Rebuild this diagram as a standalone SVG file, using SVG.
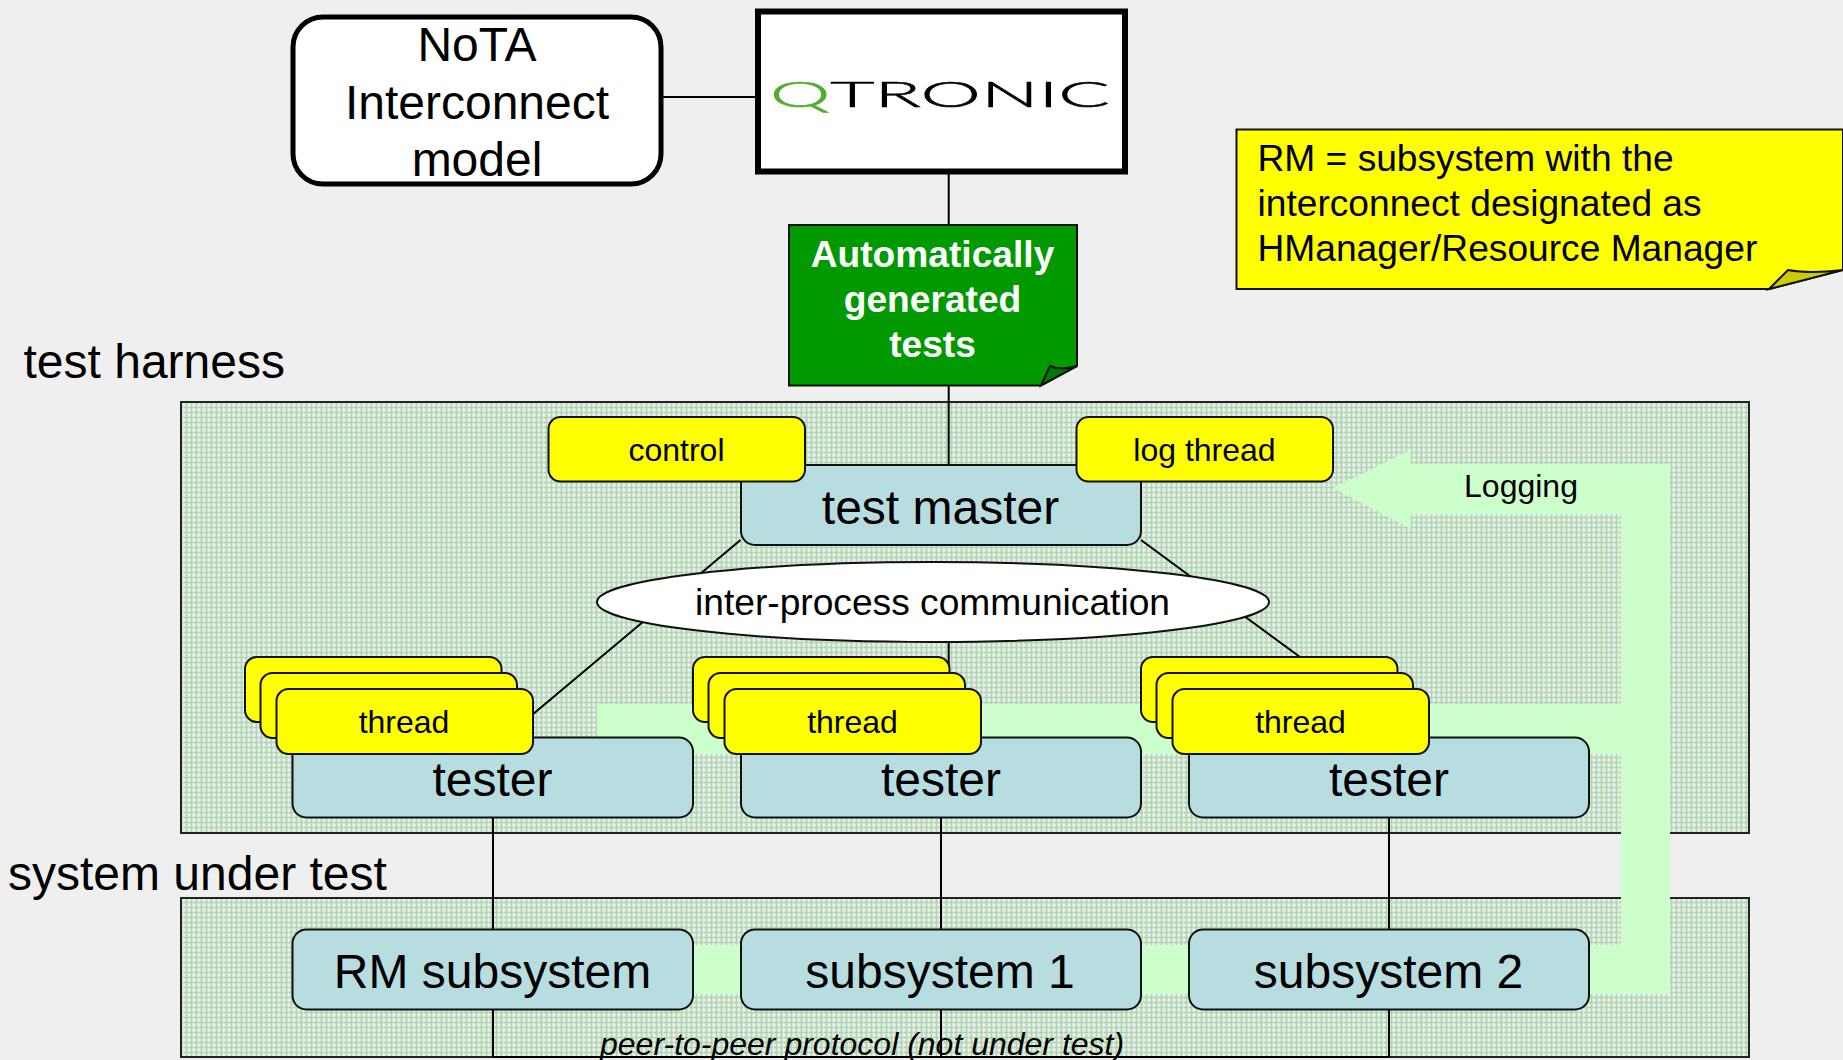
<svg xmlns="http://www.w3.org/2000/svg" width="1843" height="1060" viewBox="0 0 1843 1060">
<defs>
<pattern id="dots" width="5" height="5" patternUnits="userSpaceOnUse" x="181" y="402">
<rect width="5" height="5" fill="#d8e2d8"/>
<rect width="5" height="1" fill="#9ad69f"/>
<rect width="1" height="5" fill="#a6dbab"/>
<rect x="2" y="2" width="2" height="2" fill="#f0f0f0"/>
<rect x="2" y="0" width="1" height="1" fill="#e4e4e4"/>
</pattern>
</defs>
<style>
text{font-family:"Liberation Sans",Arial,sans-serif;fill:#000}
.c{text-anchor:middle}
.s48{font-size:48px}
.s37{font-size:37.17px}
.s32{font-size:32px}
.blue{fill:#b8dde1;stroke:#111;stroke-width:2}
.yel{fill:#ffff00;stroke:#111;stroke-width:2}
.panel{fill:url(#dots);stroke:#222;stroke-width:2}
.line{fill:none;stroke:#000;stroke-width:2}
</style>
<rect width="1843" height="1060" fill="#efefef"/>
<g id="panel-harness"><rect class="panel" x="181" y="402" width="1568" height="431"/></g>
<g id="panel-sut"><rect class="panel" x="181" y="898" width="1568" height="159"/></g>
<g id="logging-arrow">
<polygon fill="#ccffcc" points="1333,488 1410.7,450 1410.7,464.3 1670,464.3 1670,994 693,994 693,945 1621,945 1621,754 597,754 597,704.3 1621,704.3 1621,514.3 1410.7,514.3 1410.7,529"/>
<text class="s32 c" x="1521" y="497">Logging</text>
</g>
<g id="connectors">
<path class="line" d="M662 97H755M948.700 174V470M948.700 640V700M740.500 540L532 715M1141 540L1300 657M493 818V1057M941 818V1057M1389 818V1057M493 1057H1389"/>
</g>
<g id="nota"><rect x="293" y="17" width="368" height="167" rx="30" fill="#fff" stroke="#000" stroke-width="5"/>
<text class="s48 c" x="477" y="61">NoTA</text><text class="s48 c" x="477" y="119">Interconnect</text><text class="s48 c" x="477" y="176">model</text></g>
<g id="qtronic"><rect x="758" y="11.500" width="367" height="160" fill="#fff" stroke="#000" stroke-width="6"/>
<text font-size="36" transform="translate(770 107) scale(2.2 1)" textLength="154.500" lengthAdjust="spacingAndGlyphs" style="font-family:Lato,sans-serif;font-weight:300" stroke="#000" stroke-width="0.6"><tspan fill="#4fae2a" stroke="#4fae2a">Q</tspan>TRONIC</text></g>
<g id="generated-tests">
<polygon points="789,225 1077,225 1077,366 1041,385.500 789,385.500" fill="#009900" stroke="#111" stroke-width="2"/>
<path d="M1041 385.500L1050 366Q1060 371 1077 366Z" fill="#007a00" stroke="#111" stroke-width="2"/>
<text class="s37 c" x="932.500" y="267" font-weight="700" style="fill:#fff">Automatically</text><text class="s37 c" x="932.500" y="312" font-weight="700" style="fill:#fff">generated</text><text class="s37 c" x="932.500" y="357" font-weight="700" style="fill:#fff">tests</text></g>
<g id="note">
<polygon points="1236.500,129.500 1843,129.500 1843,270 1769,289 1236.500,289" fill="#ffff00" stroke="#111" stroke-width="2"/>
<path d="M1769 289L1788 270Q1810 274 1843 270Z" fill="#cccc00" stroke="#111" stroke-width="2"/>
<text class="s37" x="1257.500" y="171">RM = subsystem with the</text><text class="s37" x="1257.500" y="216">interconnect designated as</text><text class="s37" x="1257.500" y="261">HManager/Resource Manager</text></g>
<g id="label-harness"><text class="s48" x="23.500" y="377.500">test harness</text></g>
<g id="label-sut"><text class="s48" x="8" y="890">system under test</text></g>
<g id="test-master"><rect class="blue" x="741" y="465" width="400" height="80" rx="14"/><text class="s48 c" x="940.500" y="524">test master</text></g>
<g id="control"><rect class="yel" x="548.500" y="417" width="256.500" height="64.500" rx="12"/><text class="s32 c" x="676.500" y="461">control</text></g>
<g id="log-thread"><rect class="yel" x="1076.500" y="417" width="256.500" height="64.500" rx="12"/><text class="s32 c" x="1204.500" y="461">log thread</text></g>
<g id="ipc"><ellipse cx="933" cy="602" rx="336" ry="40" fill="#fff" stroke="#111" stroke-width="2"/><text class="s37 c" x="932.500" y="615">inter-process communication</text></g>
<g id="tester-1"><rect class="blue" x="292.500" y="737.500" width="400.500" height="80" rx="14"/><text class="s48 c" x="492.500" y="796">tester</text></g>
<g id="tester-2"><rect class="blue" x="741" y="737.500" width="400" height="80" rx="14"/><text class="s48 c" x="941" y="796">tester</text></g>
<g id="tester-3"><rect class="blue" x="1189" y="737.500" width="400" height="80" rx="14"/><text class="s48 c" x="1389" y="796">tester</text></g>
<g id="threads-1">
<rect class="yel" x="245" y="657" width="256.500" height="65" rx="12"/><rect class="yel" x="260.500" y="673" width="256.500" height="65" rx="12"/><rect class="yel" x="276.500" y="689" width="256.500" height="65" rx="12"/><text class="s32 c" x="404" y="733">thread</text></g>
<g id="threads-2">
<rect class="yel" x="693" y="657" width="256.500" height="65" rx="12"/><rect class="yel" x="708.500" y="673" width="256.500" height="65" rx="12"/><rect class="yel" x="724.500" y="689" width="256.500" height="65" rx="12"/><text class="s32 c" x="852.500" y="733">thread</text></g>
<g id="threads-3">
<rect class="yel" x="1141" y="657" width="256.500" height="65" rx="12"/><rect class="yel" x="1156.500" y="673" width="256.500" height="65" rx="12"/><rect class="yel" x="1172.500" y="689" width="256.500" height="65" rx="12"/><text class="s32 c" x="1300.500" y="733">thread</text></g>
<g id="rm-subsystem"><rect class="blue" x="292.500" y="929.500" width="400.500" height="80" rx="14"/><text class="s48 c" x="492.500" y="988">RM subsystem</text></g>
<g id="subsystem-1"><rect class="blue" x="741" y="929.500" width="400" height="80" rx="14"/><text class="s48 c" x="940" y="988">subsystem 1</text></g>
<g id="subsystem-2"><rect class="blue" x="1189" y="929.500" width="400" height="80" rx="14"/><text class="s48 c" x="1388.500" y="988">subsystem 2</text></g>
<g id="protocol-label"><text x="600" y="1055" font-size="32" font-style="italic">peer-to-peer protocol (not under test)</text></g>
</svg>
